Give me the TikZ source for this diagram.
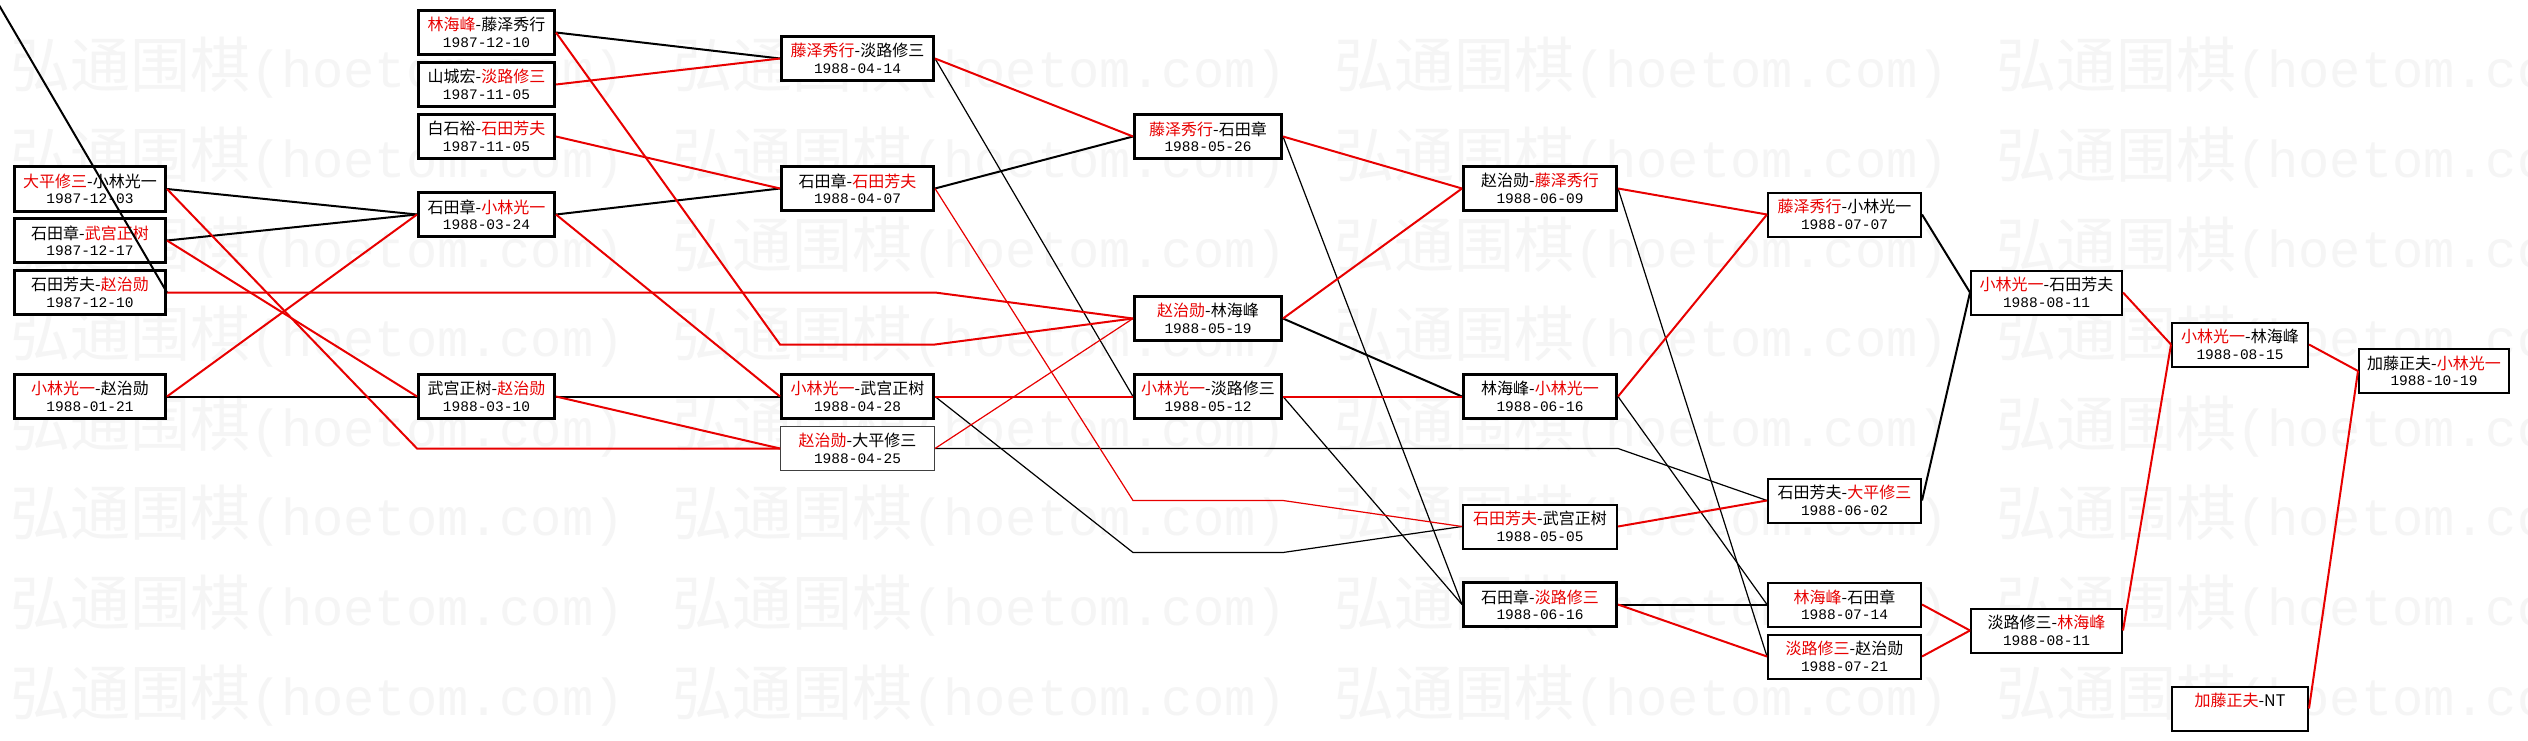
\documentclass[tikz,border=0pt]{standalone}
\usepackage{fontspec}
\usetikzlibrary{calc}
\newfontfamily\cjk{Noto Sans CJK SC}
\newfontfamily\datefont{Liberation Mono}
\definecolor{winred}{RGB}{232,0,0}
\definecolor{wmgray}{RGB}{245,245,245}
\newcommand{\W}[1]{\textcolor{winred}{#1}}
\newcommand{\D}[1]{{\datefont\fontsize{14.5}{16}\selectfont #1}}

\begin{document}
\begin{tikzpicture}[x=1pt, y=-1pt,
    game/.style={draw, fill=white, line width=3pt, inner sep=0pt, minimum height=44pt,
        align=center, font=\cjk\fontsize{16}{16.5}\selectfont},
    midgame/.style={game, line width=2pt},
    byegame/.style={game, line width=1pt, draw=black!75},
    win/.style={winred, line width=2pt},
    lose/.style={black, line width=2pt},
    thinwin/.style={winred, line width=1.2pt},
    thinlose/.style={black, line width=1.2pt},
    wmark/.style={wmgray, inner sep=0pt, anchor=west}]
    \useasboundingbox (0,0) rectangle (2528,741);
    \fill[white] (0,0) rectangle (2528,741);
    % watermark
    \foreach \r in {0,...,7}
        \foreach \c in {0,...,3}
            \node[wmark] (wm-\r-\c) at (10+662*\c, 68+89.6*\r)
                {\cjk\fontsize{60}{60}\selectfont 弘通围棋{\datefont\fontsize{52}{60}\selectfont (hoetom.com)}};

    % round 1
    \node[game, minimum width=151] (a1) at (90,189)   {\W{大平修三}-小林光一\\\D{1987-12-03}};
    \node[game, minimum width=151] (a2) at (90,240.5) {石田章-\W{武宫正树}\\\D{1987-12-17}};
    \node[game, minimum width=151] (a3) at (90,292.5) {石田芳夫-\W{赵治勋}\\\D{1987-12-10}};
    \node[game, minimum width=151] (a4) at (90,396.5) {\W{小林光一}-赵治勋\\\D{1988-01-21}};
    % round 2
    \node[game, minimum width=136] (b1) at (486.5,32.5)  {\W{林海峰}-藤泽秀行\\\D{1987-12-10}};
    \node[game, minimum width=136] (b2) at (486.5,84.5)  {山城宏-\W{淡路修三}\\\D{1987-11-05}};
    \node[game, minimum width=136] (b3) at (486.5,136.5) {白石裕-\W{石田芳夫}\\\D{1987-11-05}};
    \node[game, minimum width=136] (b4) at (486.5,214.5) {石田章-\W{小林光一}\\\D{1988-03-24}};
    \node[game, minimum width=136] (b5) at (486.5,396.5) {武宫正树-\W{赵治勋}\\\D{1988-03-10}};
    % round 3
    \node[game, minimum width=152] (c1) at (857.5,58.5)  {\W{藤泽秀行}-淡路修三\\\D{1988-04-14}};
    \node[game, minimum width=152] (c2) at (857.5,188.5) {石田章-\W{石田芳夫}\\\D{1988-04-07}};
    \node[game, minimum width=152] (c3) at (857.5,396.5) {\W{小林光一}-武宫正树\\\D{1988-04-28}};
    \node[byegame, minimum width=154] (c4) at (857.5,448.5) {\W{赵治勋}-大平修三\\\D{1988-04-25}};
    % round 4
    \node[game, minimum width=147] (d1) at (1208,136.5) {\W{藤泽秀行}-石田章\\\D{1988-05-26}};
    \node[game, minimum width=147] (d2) at (1208,318.5) {\W{赵治勋}-林海峰\\\D{1988-05-19}};
    \node[game, minimum width=147] (d3) at (1208,396.5) {\W{小林光一}-淡路修三\\\D{1988-05-12}};
    % round 5
    \node[game, minimum width=153] (e1) at (1540,188.5) {赵治勋-\W{藤泽秀行}\\\D{1988-06-09}};
    \node[game, minimum width=153] (e2) at (1540,396.5) {林海峰-\W{小林光一}\\\D{1988-06-16}};
    \node[midgame, minimum width=154] (e3) at (1540,526.5) {\W{石田芳夫}-武宫正树\\\D{1988-05-05}};
    \node[game, minimum width=153] (e4) at (1540,604.5) {石田章-\W{淡路修三}\\\D{1988-06-16}};
    % round 6
    \node[midgame, minimum width=153] (f1) at (1844.5,214.5) {\W{藤泽秀行}-小林光一\\\D{1988-07-07}};
    \node[midgame, minimum width=153] (f2) at (1844.5,500.5) {石田芳夫-\W{大平修三}\\\D{1988-06-02}};
    \node[midgame, minimum width=153] (f3) at (1844.5,604.5) {\W{林海峰}-石田章\\\D{1988-07-14}};
    \node[midgame, minimum width=153] (f4) at (1844.5,656.5) {\W{淡路修三}-赵治勋\\\D{1988-07-21}};
    % round 7 to final
    \node[midgame, minimum width=151] (g1) at (2046.5,292.5) {\W{小林光一}-石田芳夫\\\D{1988-08-11}};
    \node[midgame, minimum width=151] (g2) at (2046.5,630.5) {淡路修三-\W{林海峰}\\\D{1988-08-11}};
    \node[midgame, minimum width=136] (h1) at (2240,344.5) {\W{小林光一}-林海峰\\\D{1988-08-15}};
    \node[midgame, minimum width=136] (h2) at (2240,708.5) {\W{加藤正夫}-NT\\\D{\phantom{1988-10-19}}};
    \node[midgame, minimum width=150] (i1) at (2434,371) {加藤正夫-\W{小林光一}\\\D{1988-10-19}};

    % bends
    \coordinate (cornerin) at (-4,0);
    \coordinate (a1by) at (417,448.5);
    \coordinate (a3by) at (935,292.5);
    \coordinate (b1byl) at (780,344.5);
    \coordinate (b1byr) at (935,344.5);
    \coordinate (c2byl) at (1133,500.5);
    \coordinate (c2byr) at (1283,500.5);
    \coordinate (c3byl) at (1133,552.5);
    \coordinate (c3byr) at (1283,552.5);
    \coordinate (c4by) at (1618,448.5);

    % losers
    \draw[lose] (a1.east) -- (b4.west);
    \draw[lose] (a2.east) -- (b4.west);
    \draw[lose] (a4.east) -- (b5.west);
    \draw[lose] (b1.east) -- (c1.west);
    \draw[lose] (b4.east) -- (c2.west);
    \draw[lose] (b5.east) -- (c3.west);
    \draw[thinlose] (c1.east) -- (d3.west);
    \draw[lose] (c2.east) -- (d1.west);
    \draw[thinlose] (c3.east) -- (c3byl) -- (c3byr) -- (e3.west);
    \draw[thinlose] (c4.east) -- (c4by) -- (f2.west);
    \draw[thinlose] (d1.east) -- (e4.west);
    \draw[lose] (d2.east) -- (e2.west);
    \draw[thinlose] (d3.east) -- (e4.west);
    \draw[thinlose] (e1.east) -- (f4.west);
    \draw[thinlose] (e2.east) -- (f3.west);
    \draw[lose] (e4.east) -- (f3.west);
    \draw[lose] (f1.east) -- (g1.west);
    \draw[lose] (f2.east) -- (g1.west);

    % winners
    \draw[win] (a1.east) -- (a1by) -- (c4.west);
    \draw[win] (a2.east) -- (b5.west);
    \draw[win] (a3.east) -- (a3by) -- (d2.west);
    \draw[win] (a4.east) -- (b4.west);
    \draw[win] (b1.east) -- (b1byl) -- (b1byr) -- (d2.west);
    \draw[win] (b2.east) -- (c1.west);
    \draw[win] (b3.east) -- (c2.west);
    \draw[win] (b4.east) -- (c3.west);
    \draw[win] (b5.east) -- (c4.west);
    \draw[win] (c1.east) -- (d1.west);
    \draw[thinwin] (c2.east) -- (c2byl) -- (c2byr) -- (e3.west);
    \draw[win] (c3.east) -- (d3.west);
    \draw[thinwin] (c4.east) -- (d2.west);
    \draw[win] (d1.east) -- (e1.west);
    \draw[win] (d2.east) -- (e1.west);
    \draw[win] (d3.east) -- (e2.west);
    \draw[win] (e1.east) -- (f1.west);
    \draw[win] (e2.east) -- (f1.west);
    \draw[win] (e3.east) -- (f2.west);
    \draw[win] (e4.east) -- (f4.west);
    \draw[win] (f3.east) -- (g2.west);
    \draw[win] (f4.east) -- (g2.west);
    \draw[win] (g1.east) -- (h1.west);
    \draw[win] (g2.east) -- (h1.west);
    \draw[win] (h1.east) -- (i1.west);
    \draw[win] (h2.east) -- (i1.west);

    \draw[lose] (cornerin) -- (a3.east);
\end{tikzpicture}
\end{document}
